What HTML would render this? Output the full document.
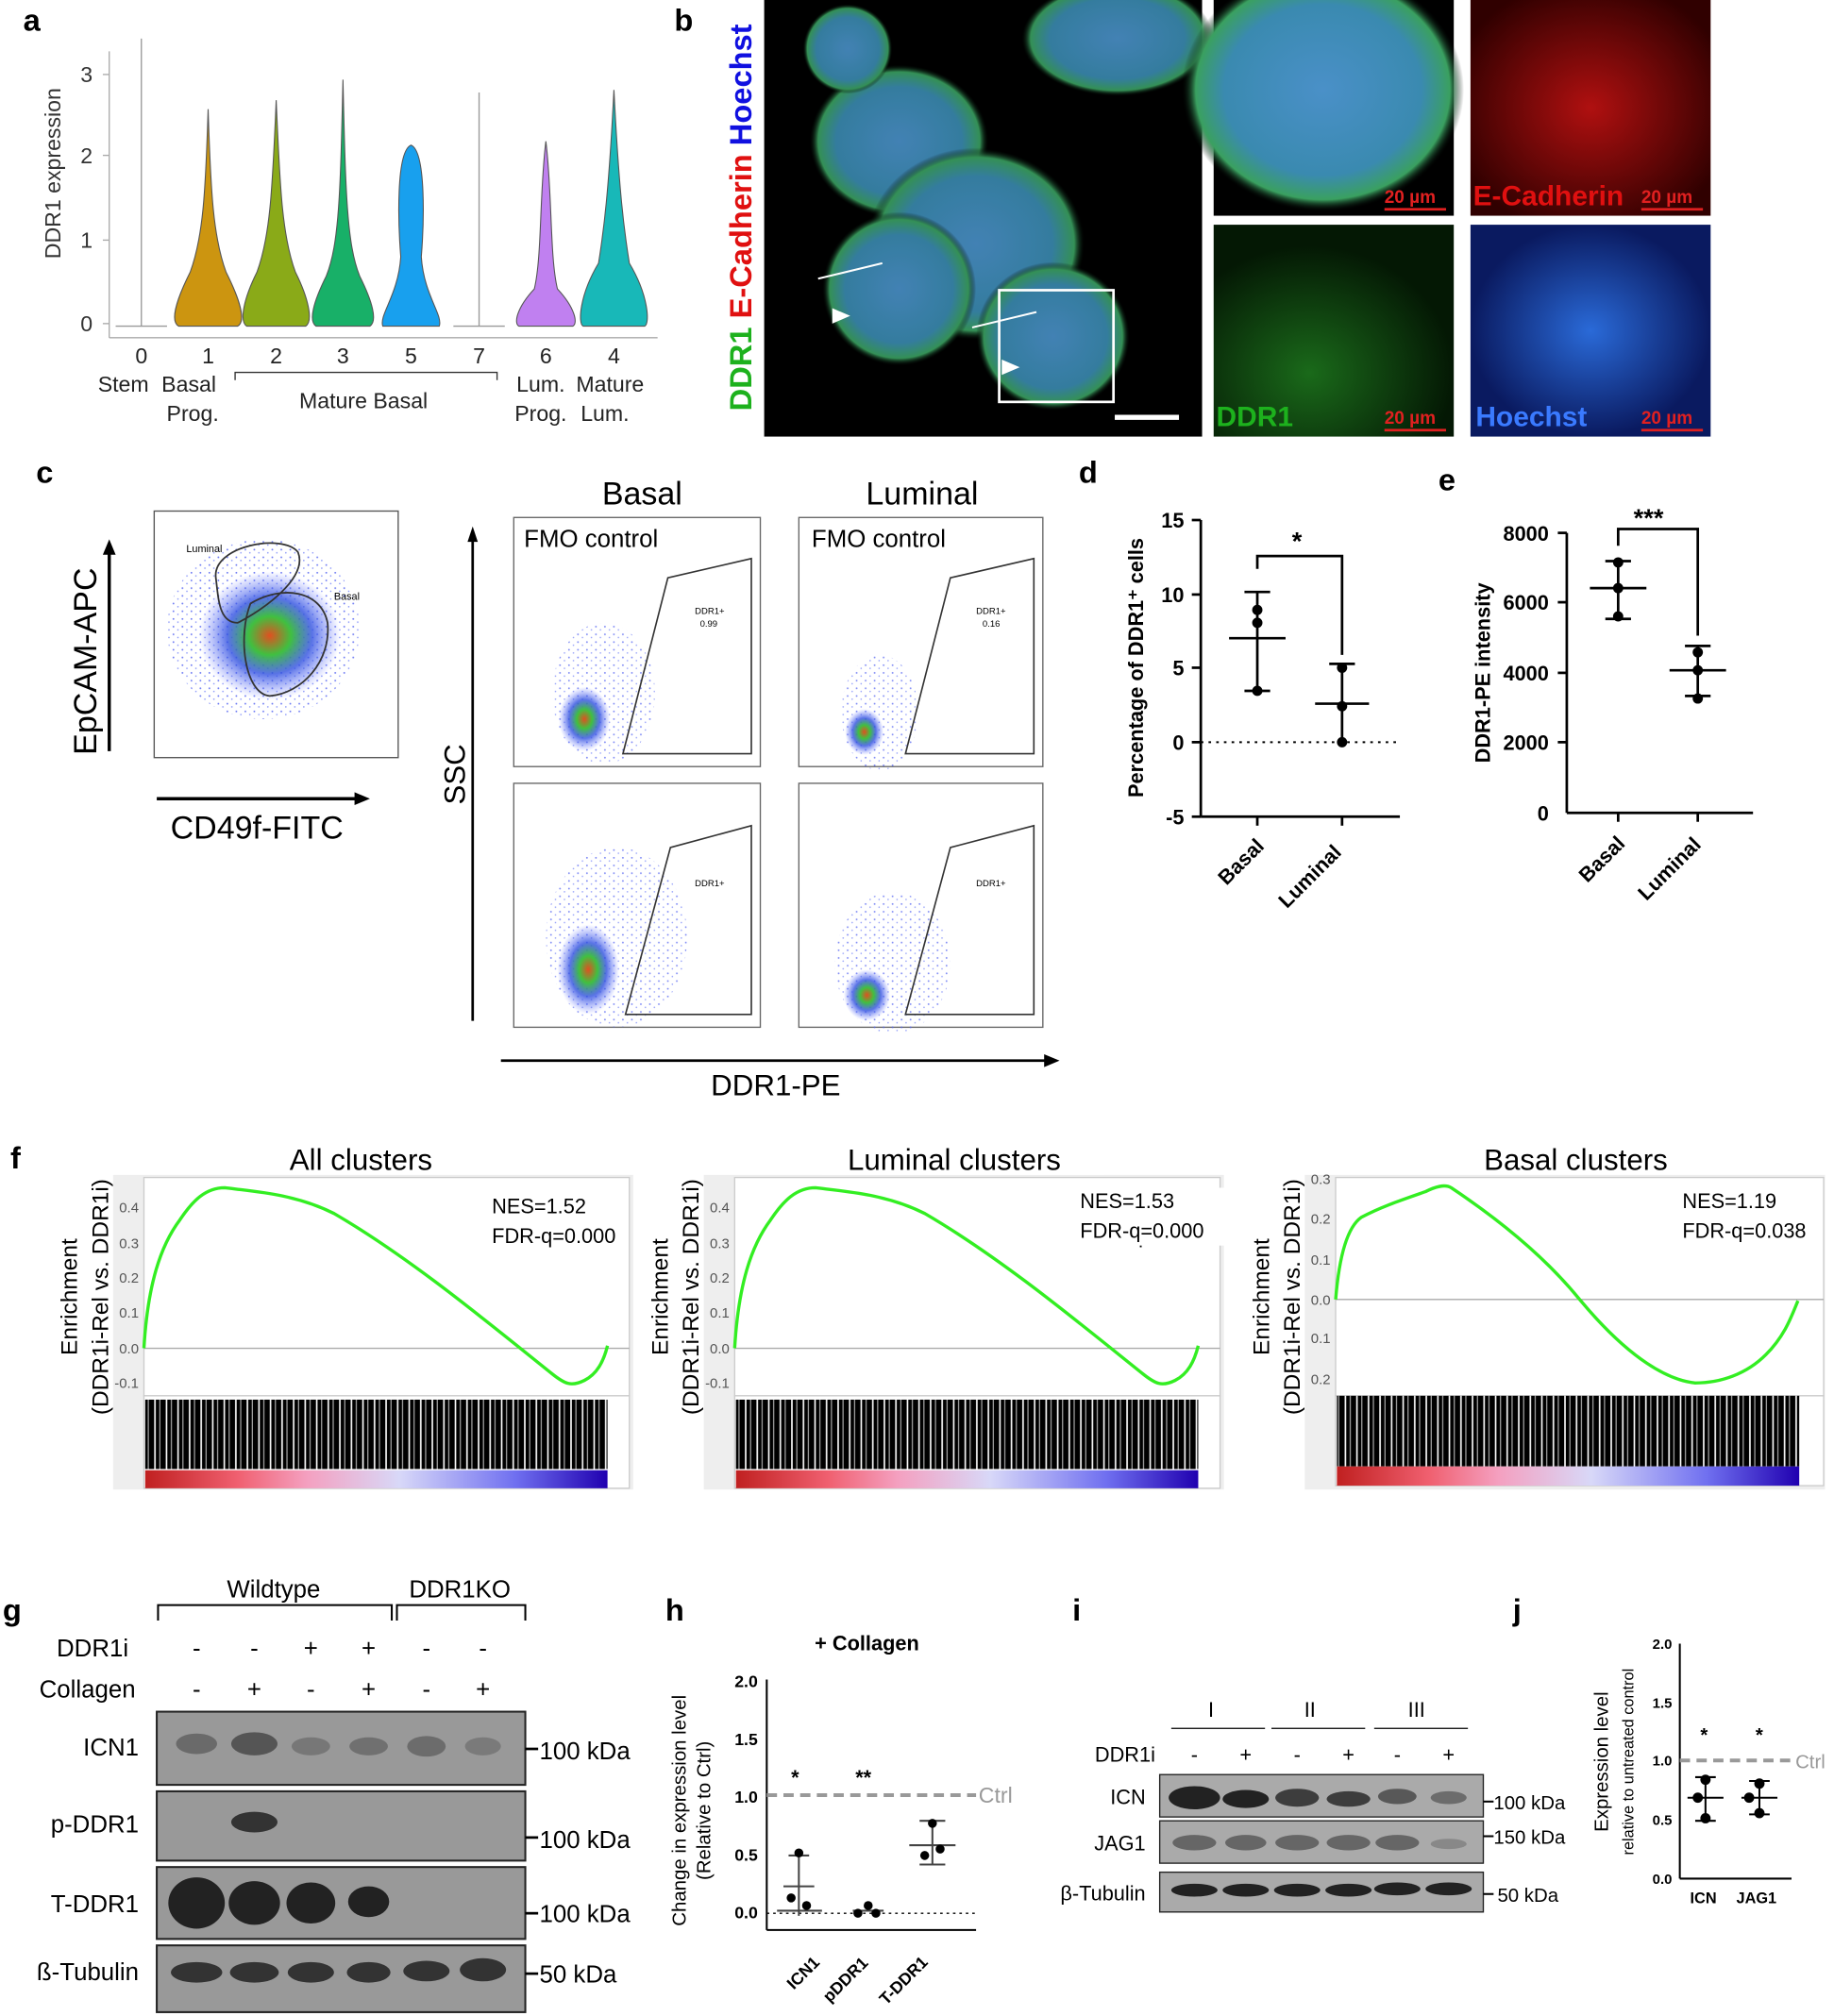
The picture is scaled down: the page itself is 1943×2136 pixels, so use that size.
<!DOCTYPE html>
<html><head><meta charset="utf-8"><style>
html,body{margin:0;padding:0;background:#fff}
svg{display:block}
text{font-family:"Liberation Sans",sans-serif}
</style></head><body>
<svg width="1943" height="2136" viewBox="0 0 1428 1570" xmlns="http://www.w3.org/2000/svg">
<defs>
<radialGradient id="org" cx="50%" cy="50%" r="50%"><stop offset="0" stop-color="#4a90c8"/><stop offset="0.7" stop-color="#3a8ab0"/><stop offset="0.9" stop-color="#3aa060"/><stop offset="1" stop-color="#000" stop-opacity="0"/></radialGradient>
<radialGradient id="blu" cx="50%" cy="50%" r="50%"><stop offset="0" stop-color="#2a6ad8"/><stop offset="1" stop-color="#0a1a60"/></radialGradient>
<radialGradient id="red" cx="50%" cy="50%" r="60%"><stop offset="0" stop-color="#b01010"/><stop offset="1" stop-color="#300000"/></radialGradient>
<radialGradient id="grn" cx="40%" cy="70%" r="60%"><stop offset="0" stop-color="#1a6a1a"/><stop offset="1" stop-color="#041804"/></radialGradient>
<radialGradient id="flow" cx="50%" cy="50%" r="50%"><stop offset="0" stop-color="#e05020"/><stop offset="0.3" stop-color="#40c040"/><stop offset="0.6" stop-color="#3050e0" stop-opacity="0.8"/><stop offset="1" stop-color="#6070ff" stop-opacity="0"/></radialGradient>
<linearGradient id="rank" x1="0" x2="1"><stop offset="0" stop-color="#c02020"/><stop offset="0.2" stop-color="#f06070"/><stop offset="0.35" stop-color="#f4a0c0"/><stop offset="0.55" stop-color="#d8d8f8"/><stop offset="0.8" stop-color="#7070f0"/><stop offset="1" stop-color="#2000b0"/></linearGradient>
<pattern id="bar" width="9" height="10" patternUnits="userSpaceOnUse"><rect width="9" height="10" fill="#000"/><rect x="3" width="1.2" height="10" fill="#fff"/><rect x="7" width="0.8" height="10" fill="#bbb"/></pattern>
<pattern id="dots" width="7" height="6" patternUnits="userSpaceOnUse"><circle cx="2" cy="2" r="0.7" fill="#4a5af0"/><circle cx="5.5" cy="4.5" r="0.6" fill="#6a7af8"/></pattern>
</defs>

<g font-weight="bold" font-size="24">
<text x="18" y="24">a</text><text x="525" y="24">b</text><text x="28" y="376">c</text><text x="840" y="376">d</text><text x="1120" y="382">e</text><text x="8" y="910">f</text><text x="2" y="1262">g</text><text x="518" y="1262">h</text><text x="835" y="1262">i</text><text x="1178" y="1262">j</text>
</g>

<!-- a -->
<g>
<line x1="85" y1="40" x2="85" y2="263" stroke="#aaa"/><line x1="85" y1="263" x2="512" y2="263" stroke="#aaa"/>
<g font-size="17" text-anchor="end" fill="#333"><text x="72" y="258">0</text><text x="72" y="193">1</text><text x="72" y="127">2</text><text x="72" y="64">3</text></g>
<g stroke="#aaa"><line x1="80" y1="252" x2="85" y2="252"/><line x1="80" y1="187" x2="85" y2="187"/><line x1="80" y1="121" x2="85" y2="121"/><line x1="80" y1="58" x2="85" y2="58"/></g>
<text transform="translate(47,135) rotate(-90)" font-size="17" text-anchor="middle" fill="#333">DDR1 expression</text>
<line x1="110" y1="30" x2="110" y2="254" stroke="#999"/><path d="M90,254 L130,254" stroke="#999"/>
<line x1="373" y1="72" x2="373" y2="254" stroke="#999"/><path d="M353,254 L393,254" stroke="#999"/>
<g stroke="#555" stroke-width="0.8">
<path d="M162,85 C164,150 166,185 176,212 C186,232 192,250 185,254 L139,254 C132,250 138,232 148,212 C158,185 160,150 162,85Z" fill="#cc9510"/>
<path d="M215,78 C218,150 220,185 230,212 C240,232 244,250 238,254 L192,254 C186,250 190,232 200,212 C210,185 212,150 215,78Z" fill="#8aaa18"/>
<path d="M267,62 C269,150 270,190 280,215 C290,235 294,250 288,254 L246,254 C240,250 244,235 254,215 C264,190 265,150 267,62Z" fill="#18b068"/>
<path d="M320,113 C332,118 330,175 328,200 C330,230 345,245 342,254 L298,254 C295,245 310,230 312,200 C310,175 308,118 320,113Z" fill="#18a0ee"/>
<path d="M425,110 C430,150 428,200 434,225 C448,240 450,252 446,254 L404,254 C400,252 402,240 416,225 C422,200 420,150 425,110Z" fill="#c080f0"/>
<path d="M478,70 C482,150 486,180 490,205 C505,230 506,252 502,254 L454,254 C450,252 451,230 466,205 C470,180 474,150 478,70Z" fill="#18b8b8"/>
</g>
<g font-size="17" text-anchor="middle" fill="#222">
<text x="110" y="283">0</text><text x="162" y="283">1</text><text x="215" y="283">2</text><text x="267" y="283">3</text><text x="320" y="283">5</text><text x="373" y="283">7</text><text x="425" y="283">6</text><text x="478" y="283">4</text>
<text x="96" y="305">Stem</text><text x="147" y="305">Basal</text><text x="150" y="328">Prog.</text><text x="283" y="318">Mature Basal</text>
<text x="421" y="305">Lum.</text><text x="475" y="305">Mature</text><text x="421" y="328">Prog.</text><text x="471" y="328">Lum.</text>
</g>
<path d="M183,296 L183,290 L387,290 L387,296" fill="none" stroke="#333"/>
</g>

<!-- b -->
<rect x="595" y="0" width="341" height="340" fill="#000"/>
<g opacity="0.9">
<ellipse cx="700" cy="110" rx="70" ry="60" fill="url(#org)"/>
<ellipse cx="760" cy="190" rx="85" ry="75" fill="url(#org)"/>
<ellipse cx="700" cy="225" rx="60" ry="60" fill="url(#org)"/>
<ellipse cx="820" cy="262" rx="60" ry="58" fill="url(#org)"/>
<ellipse cx="870" cy="30" rx="75" ry="45" fill="url(#org)"/>
<ellipse cx="660" cy="38" rx="35" ry="35" fill="url(#org)"/>
</g>
<rect x="778" y="226" width="89" height="87" fill="none" stroke="#fff" stroke-width="2"/>
<line x1="868" y1="325" x2="918" y2="325" stroke="#fff" stroke-width="4"/>
<g stroke="#fff" stroke-width="1.5"><line x1="637" y1="217" x2="687" y2="205"/><line x1="757" y1="255" x2="807" y2="243"/></g>
<polygon points="648,240 662,246 648,252" fill="#fff"/><polygon points="780,280 794,286 780,292" fill="#fff"/>
<g font-weight="bold" font-size="24"><text transform="translate(585,320) rotate(-90)"><tspan fill="#1db11d">DDR1 </tspan><tspan fill="#e01010">E-Cadherin </tspan><tspan fill="#1010e0">Hoechst</tspan></text></g>
<rect x="945" y="0" width="187" height="168" fill="#000"/><ellipse cx="1030" cy="70" rx="110" ry="95" fill="url(#org)"/>
<rect x="1145" y="0" width="187" height="168" fill="url(#red)"/>
<rect x="945" y="175" width="187" height="165" fill="url(#grn)"/>
<rect x="1145" y="175" width="187" height="165" fill="url(#blu)"/>
<g font-size="14" font-weight="bold" fill="#e02020"><text x="1078" y="158">20 µm</text><text x="1278" y="158">20 µm</text><text x="1078" y="330">20 µm</text><text x="1278" y="330">20 µm</text></g>
<g stroke="#e02020" stroke-width="2"><line x1="1078" y1="163" x2="1126" y2="163"/><line x1="1278" y1="163" x2="1326" y2="163"/><line x1="1078" y1="335" x2="1126" y2="335"/><line x1="1278" y1="335" x2="1326" y2="335"/></g>
<text x="1147" y="160" font-size="22" font-weight="bold" fill="#e01010">E-Cadherin</text>
<text x="947" y="332" font-size="22" font-weight="bold" fill="#1db11d">DDR1</text>
<text x="1149" y="332" font-size="22" font-weight="bold" fill="#3a7aff">Hoechst</text>

<!-- c -->
<rect x="120" y="398" width="190" height="192" fill="#fff" stroke="#555"/>
<ellipse cx="205" cy="490" rx="75" ry="70" fill="url(#dots)" opacity="0.8"/>
<ellipse cx="210" cy="495" rx="55" ry="50" fill="url(#flow)"/>
<path d="M168,450 C165,425 220,415 232,430 C240,450 205,475 185,485 C170,485 170,465 168,450Z" fill="none" stroke="#333" stroke-width="1.3"/>
<path d="M195,470 C220,455 250,460 255,485 C258,515 235,540 210,542 C190,540 185,495 195,470Z" fill="none" stroke="#333" stroke-width="1.3"/>
<text x="145" y="430" font-size="8">Luminal</text><text x="260" y="467" font-size="8">Basal</text>
<line x1="85" y1="585" x2="85" y2="430" stroke="#000" stroke-width="2.5"/><polygon points="80,432 90,432 85,420" fill="#000"/>
<line x1="122" y1="622" x2="278" y2="622" stroke="#000" stroke-width="2.5"/><polygon points="276,617 276,627 288,622" fill="#000"/>
<text transform="translate(75,515) rotate(-90)" font-size="25" text-anchor="middle">EpCAM-APC</text>
<text x="200" y="653" font-size="25" text-anchor="middle">CD49f-FITC</text>
<text x="500" y="393" font-size="25" text-anchor="middle">Basal</text><text x="718" y="393" font-size="25" text-anchor="middle">Luminal</text>
<g fill="#fff" stroke="#666">
<rect x="400" y="403" width="192" height="194"/><rect x="622" y="403" width="190" height="194"/>
<rect x="400" y="610" width="192" height="190"/><rect x="622" y="610" width="190" height="190"/>
</g>
<g fill="url(#dots)" opacity="0.7"><ellipse cx="470" cy="540" rx="40" ry="55"/><ellipse cx="685" cy="555" rx="30" ry="45"/><ellipse cx="480" cy="730" rx="55" ry="70"/><ellipse cx="695" cy="750" rx="45" ry="55"/></g>
<ellipse cx="455" cy="560" rx="20" ry="25" fill="url(#flow)"/><ellipse cx="673" cy="570" rx="15" ry="18" fill="url(#flow)"/>
<ellipse cx="458" cy="755" rx="24" ry="35" fill="url(#flow)"/><ellipse cx="675" cy="775" rx="18" ry="20" fill="url(#flow)"/>
<g fill="none" stroke="#333" stroke-width="1.2">
<path d="M485,587 L520,450 L585,435 L585,587Z"/><path d="M705,587 L740,450 L805,435 L805,587Z"/>
<path d="M487,790 L522,660 L585,643 L585,790Z"/><path d="M705,790 L740,660 L805,643 L805,790Z"/>
</g>
<g font-size="19"><text x="408" y="426">FMO control</text><text x="632" y="426">FMO control</text></g>
<g font-size="7"><text x="541" y="478">DDR1+</text><text x="545" y="488">0.99</text><text x="760" y="478">DDR1+</text><text x="765" y="488">0.16</text><text x="541" y="690">DDR1+</text><text x="760" y="690">DDR1+</text></g>
<line x1="368" y1="795" x2="368" y2="420" stroke="#000" stroke-width="2"/><polygon points="364,422 372,422 368,410" fill="#000"/>
<line x1="390" y1="826" x2="815" y2="826" stroke="#000" stroke-width="2"/><polygon points="813,821 813,831 825,826" fill="#000"/>
<text transform="translate(362,603) rotate(-90)" font-size="23" text-anchor="middle">SSC</text>
<text x="604" y="853" font-size="23" text-anchor="middle">DDR1-PE</text>

<!-- d -->
<g font-size="16" font-weight="bold">
<line x1="935" y1="405" x2="935" y2="636" stroke="#000" stroke-width="2"/><line x1="935" y1="636" x2="1090" y2="636" stroke="#000" stroke-width="2"/>
<g text-anchor="end"><text x="922" y="411">15</text><text x="922" y="469">10</text><text x="922" y="526">5</text><text x="922" y="584">0</text><text x="922" y="642">-5</text></g>
<g stroke="#000" stroke-width="2"><line x1="928" y1="405" x2="935" y2="405"/><line x1="928" y1="463" x2="935" y2="463"/><line x1="928" y1="520" x2="935" y2="520"/><line x1="928" y1="578" x2="935" y2="578"/><line x1="928" y1="636" x2="935" y2="636"/><line x1="979" y1="636" x2="979" y2="643"/><line x1="1045" y1="636" x2="1045" y2="643"/></g>
<line x1="935" y1="578" x2="1090" y2="578" stroke="#000" stroke-dasharray="2,4" stroke-width="1.5"/>
<text transform="translate(890,520) rotate(-90)" text-anchor="middle">Percentage of DDR1⁺ cells</text>
<text transform="translate(955,690) rotate(-45)">Basal</text><text transform="translate(1002,708) rotate(-45)">Luminal</text>
<g stroke="#000" stroke-width="2"><line x1="979" y1="461" x2="979" y2="538"/><line x1="969" y1="461" x2="989" y2="461"/><line x1="969" y1="538" x2="989" y2="538"/><line x1="957" y1="497" x2="1001" y2="497"/>
<line x1="1045" y1="517" x2="1045" y2="580"/><line x1="1035" y1="517" x2="1055" y2="517"/><line x1="1024" y1="548" x2="1066" y2="548"/>
<path d="M979,443 V433 H1045 V510" fill="none"/></g>
<circle cx="979" cy="475" r="4"/><circle cx="979" cy="485" r="4"/><circle cx="979" cy="538" r="4"/><circle cx="1045" cy="520" r="4"/><circle cx="1045" cy="550" r="4"/><circle cx="1045" cy="578" r="4"/>
<text x="1006" y="428" font-size="20">*</text>
</g>

<!-- e -->
<g font-size="16" font-weight="bold">
<line x1="1220" y1="415" x2="1220" y2="633" stroke="#000" stroke-width="2"/><line x1="1220" y1="633" x2="1365" y2="633" stroke="#000" stroke-width="2"/>
<g text-anchor="end"><text x="1206" y="421">8000</text><text x="1206" y="475">6000</text><text x="1206" y="530">4000</text><text x="1206" y="584">2000</text><text x="1206" y="639">0</text></g>
<g stroke="#000" stroke-width="2"><line x1="1213" y1="415" x2="1220" y2="415"/><line x1="1213" y1="469" x2="1220" y2="469"/><line x1="1213" y1="524" x2="1220" y2="524"/><line x1="1213" y1="578" x2="1220" y2="578"/><line x1="1260" y1="633" x2="1260" y2="640"/><line x1="1322" y1="633" x2="1322" y2="640"/></g>
<text transform="translate(1160,524) rotate(-90)" text-anchor="middle">DDR1-PE intensity</text>
<text transform="translate(1236,688) rotate(-45)">Basal</text><text transform="translate(1282,702) rotate(-45)">Luminal</text>
<g stroke="#000" stroke-width="2"><line x1="1260" y1="437" x2="1260" y2="482"/><line x1="1250" y1="437" x2="1270" y2="437"/><line x1="1250" y1="482" x2="1270" y2="482"/><line x1="1238" y1="458" x2="1282" y2="458"/>
<line x1="1322" y1="503" x2="1322" y2="542"/><line x1="1312" y1="503" x2="1332" y2="503"/><line x1="1312" y1="542" x2="1332" y2="542"/><line x1="1300" y1="522" x2="1344" y2="522"/>
<path d="M1260,425 V412 H1322 V495" fill="none"/></g>
<circle cx="1260" cy="438" r="4"/><circle cx="1260" cy="458" r="4"/><circle cx="1260" cy="480" r="4"/><circle cx="1322" cy="508" r="4"/><circle cx="1322" cy="522" r="4"/><circle cx="1322" cy="544" r="4"/>
<text x="1272" y="410" font-size="20">***</text>
</g>

<!-- f -->
<g id="gsea1">
<rect x="88" y="915" width="405" height="245" fill="#eee"/>
<rect x="112" y="917" width="378" height="170" fill="#fff" stroke="#ccc"/>
<rect x="112" y="1087" width="378" height="72" fill="#fff" stroke="#ccc"/>
<line x1="112" y1="1050" x2="490" y2="1050" stroke="#aaa"/>
<rect x="113" y="1090" width="360" height="54" fill="url(#bar)"/>
<rect x="113" y="1145" width="360" height="14" fill="url(#rank)"/>
<path d="M112,1050 C115,1000 125,970 140,950 C150,935 160,925 175,925 C200,928 230,930 260,945 C320,980 380,1030 430,1070 C440,1078 445,1080 455,1075 C465,1070 470,1060 473,1048" fill="none" stroke="#33ee22" stroke-width="2.5"/>
<g font-size="11" fill="#555" text-anchor="end"><text x="108" y="944">0.4</text><text x="108" y="972">0.3</text><text x="108" y="999">0.2</text><text x="108" y="1026">0.1</text><text x="108" y="1054">0.0</text><text x="108" y="1081">-0.1</text></g>
<text x="281" y="911" font-size="23" text-anchor="middle">All clusters</text>
<text x="383" y="945" font-size="16">NES=1.52</text><text x="383" y="968" font-size="16">FDR-q=0.000</text>
<text transform="translate(60,1010) rotate(-90)" font-size="18" text-anchor="middle">Enrichment</text>
<text transform="translate(84,1010) rotate(-90)" font-size="18" text-anchor="middle">(DDR1i-Rel vs. DDR1i)</text>
</g>
<use href="#gsea1" transform="translate(460,0)"/>
<rect x="640" y="885" width="220" height="30" fill="#fff"/>
<rect x="835" y="925" width="120" height="45" fill="#fff"/>
<text x="743" y="911" font-size="23" text-anchor="middle">Luminal clusters</text>
<text x="841" y="941" font-size="16">NES=1.53</text><text x="841" y="964" font-size="16">FDR-q=0.000</text>
<g>
<rect x="1016" y="915" width="405" height="245" fill="#eee"/>
<rect x="1040" y="917" width="380" height="170" fill="#fff" stroke="#ccc"/>
<rect x="1040" y="1087" width="380" height="70" fill="#fff" stroke="#ccc"/>
<line x1="1040" y1="1012" x2="1420" y2="1012" stroke="#aaa"/>
<rect x="1041" y="1087" width="360" height="55" fill="url(#bar)"/>
<rect x="1041" y="1142" width="360" height="15" fill="url(#rank)"/>
<path d="M1040,1012 C1043,975 1050,955 1060,948 C1075,940 1090,935 1110,928 C1118,924 1125,922 1130,925 C1160,945 1200,975 1230,1012 C1270,1060 1300,1075 1320,1077 C1340,1077 1360,1070 1375,1055 C1390,1040 1395,1025 1400,1013" fill="none" stroke="#33ee22" stroke-width="2.5"/>
<g font-size="11" fill="#555" text-anchor="end"><text x="1036" y="922">0.3</text><text x="1036" y="953">0.2</text><text x="1036" y="985">0.1</text><text x="1036" y="1016">0.0</text><text x="1036" y="1046">0.1</text><text x="1036" y="1078">0.2</text></g>
<text x="1227" y="911" font-size="23" text-anchor="middle">Basal clusters</text>
<text x="1310" y="941" font-size="16">NES=1.19</text><text x="1310" y="964" font-size="16">FDR-q=0.038</text>
<text transform="translate(988,1010) rotate(-90)" font-size="18" text-anchor="middle">Enrichment</text>
<text transform="translate(1012,1010) rotate(-90)" font-size="18" text-anchor="middle">(DDR1i-Rel vs. DDR1i)</text>
</g>

<!-- g -->
<g>
<text x="213" y="1244" font-size="19" text-anchor="middle">Wildtype</text><text x="358" y="1244" font-size="19" text-anchor="middle">DDR1KO</text>
<path d="M123,1262 V1250 H305 V1262 M309,1262 V1250 H409 V1262" fill="none" stroke="#000" stroke-width="1.5"/>
<g font-size="19" text-anchor="middle"><text x="72" y="1290">DDR1i</text><text x="68" y="1322">Collagen</text>
<text x="153" y="1290">-</text><text x="198" y="1290">-</text><text x="242" y="1290">+</text><text x="287" y="1290">+</text><text x="332" y="1290">-</text><text x="376" y="1290">-</text>
<text x="153" y="1322">-</text><text x="198" y="1322">+</text><text x="242" y="1322">-</text><text x="287" y="1322">+</text><text x="332" y="1322">-</text><text x="376" y="1322">+</text></g>
<g fill="#999" stroke="#222" stroke-width="1.5"><rect x="122" y="1333" width="287" height="57"/><rect x="122" y="1395" width="287" height="54"/><rect x="122" y="1454" width="287" height="56"/><rect x="122" y="1515" width="287" height="52"/></g>
<g fill="#555"><ellipse cx="153" cy="1358" rx="16" ry="8" opacity="0.7"/><ellipse cx="198" cy="1358" rx="18" ry="9"/><ellipse cx="242" cy="1360" rx="15" ry="7" opacity="0.5"/><ellipse cx="287" cy="1360" rx="15" ry="7" opacity="0.6"/><ellipse cx="332" cy="1360" rx="15" ry="8" opacity="0.65"/><ellipse cx="376" cy="1360" rx="14" ry="7" opacity="0.45"/></g>
<ellipse cx="198" cy="1419" rx="18" ry="8" fill="#333"/>
<g fill="#222"><ellipse cx="153" cy="1482" rx="22" ry="20"/><ellipse cx="198" cy="1482" rx="20" ry="17"/><ellipse cx="242" cy="1482" rx="19" ry="16"/><ellipse cx="287" cy="1481" rx="16" ry="12"/></g>
<g fill="#333"><ellipse cx="153" cy="1536" rx="20" ry="8"/><ellipse cx="198" cy="1536" rx="19" ry="8"/><ellipse cx="242" cy="1536" rx="18" ry="8"/><ellipse cx="287" cy="1536" rx="17" ry="8"/><ellipse cx="332" cy="1535" rx="18" ry="8"/><ellipse cx="376" cy="1534" rx="18" ry="9"/></g>
<g font-size="19" text-anchor="end"><text x="108" y="1367">ICN1</text><text x="108" y="1427">p-DDR1</text><text x="108" y="1489">T-DDR1</text><text x="108" y="1542">ß-Tubulin</text></g>
<g font-size="19"><text x="420" y="1370">100 kDa</text><text x="420" y="1439">100 kDa</text><text x="420" y="1497">100 kDa</text><text x="420" y="1544">50 kDa</text></g>
<g stroke="#000" stroke-width="2"><line x1="409" y1="1362" x2="419" y2="1362"/><line x1="409" y1="1431" x2="419" y2="1431"/><line x1="409" y1="1490" x2="419" y2="1490"/><line x1="409" y1="1537" x2="419" y2="1537"/></g>
</g>

<!-- h -->
<g font-weight="bold" font-size="13">
<text x="675" y="1285" font-size="16" text-anchor="middle">+ Collagen</text>
<line x1="597" y1="1308" x2="597" y2="1503" stroke="#000" stroke-width="1.5"/><line x1="597" y1="1503" x2="760" y2="1503" stroke="#000" stroke-width="1.5"/>
<g text-anchor="end"><text x="590" y="1314">2.0</text><text x="590" y="1359">1.5</text><text x="590" y="1404">1.0</text><text x="590" y="1449">0.5</text><text x="590" y="1494">0.0</text></g>
<line x1="597" y1="1398" x2="760" y2="1398" stroke="#999" stroke-width="3" stroke-dasharray="8,5"/>
<text x="762" y="1404" font-size="17" font-weight="normal" fill="#999">Ctrl</text>
<line x1="597" y1="1490" x2="760" y2="1490" stroke="#000" stroke-dasharray="2,3"/>
<text transform="translate(534,1410) rotate(-90)" font-size="15" font-weight="normal" text-anchor="middle">Change in expression level</text>
<text transform="translate(553,1410) rotate(-90)" font-size="15" font-weight="normal" text-anchor="middle">(Relative to Ctrl)</text>
<g stroke="#444" stroke-width="1.5"><line x1="622" y1="1445" x2="622" y2="1492"/><line x1="610" y1="1469" x2="634" y2="1469"/><line x1="614" y1="1445" x2="630" y2="1445"/>
<line x1="605" y1="1488" x2="640" y2="1488" /><line x1="664" y1="1488" x2="688" y2="1488"/><line x1="726" y1="1418" x2="726" y2="1452"/><line x1="716" y1="1418" x2="736" y2="1418"/><line x1="716" y1="1452" x2="736" y2="1452"/><line x1="708" y1="1437" x2="744" y2="1437"/></g>
<circle cx="622" cy="1443" r="3.5"/><circle cx="616" cy="1478" r="3.5"/><circle cx="628" cy="1484" r="3.5"/><circle cx="668" cy="1490" r="3.5"/><circle cx="676" cy="1484" r="3.5"/><circle cx="682" cy="1490" r="3.5"/><circle cx="726" cy="1420" r="3.5"/><circle cx="720" cy="1445" r="3.5"/><circle cx="732" cy="1440" r="3.5"/>
<text x="616" y="1390" font-size="16">*</text><text x="666" y="1390" font-size="16">**</text>
<text transform="translate(618,1550) rotate(-45)">ICN1</text><text transform="translate(646,1560) rotate(-45)">pDDR1</text><text transform="translate(690,1562) rotate(-45)">T-DDR1</text>
</g>

<!-- i -->
<g>
<g font-size="16" text-anchor="middle"><text x="943" y="1337">I</text><text x="1020" y="1337">II</text><text x="1103" y="1337">III</text></g>
<g stroke="#000"><line x1="912" y1="1346" x2="985" y2="1346"/><line x1="990" y1="1346" x2="1063" y2="1346"/><line x1="1070" y1="1346" x2="1143" y2="1346"/></g>
<g font-size="16" text-anchor="middle"><text x="876" y="1372">DDR1i</text><text x="930" y="1372">-</text><text x="970" y="1372">+</text><text x="1010" y="1372">-</text><text x="1050" y="1372">+</text><text x="1088" y="1372">-</text><text x="1128" y="1372">+</text></g>
<g fill="#aaa" stroke="#222"><rect x="903" y="1382" width="252" height="33"/><rect x="903" y="1418" width="252" height="33"/><rect x="903" y="1458" width="252" height="31"/></g>
<g fill="#222"><ellipse cx="930" cy="1400" rx="20" ry="9"/><ellipse cx="970" cy="1401" rx="18" ry="7"/><ellipse cx="1010" cy="1400" rx="17" ry="7" opacity="0.8"/><ellipse cx="1050" cy="1401" rx="17" ry="6" opacity="0.8"/><ellipse cx="1088" cy="1399" rx="15" ry="6" opacity="0.6"/><ellipse cx="1128" cy="1400" rx="14" ry="5" opacity="0.45"/></g>
<g fill="#666"><ellipse cx="930" cy="1435" rx="17" ry="6"/><ellipse cx="970" cy="1435" rx="16" ry="6"/><ellipse cx="1010" cy="1435" rx="17" ry="6"/><ellipse cx="1050" cy="1435" rx="17" ry="6"/><ellipse cx="1088" cy="1435" rx="17" ry="6"/><ellipse cx="1128" cy="1436" rx="14" ry="4" opacity="0.5"/></g>
<g fill="#222"><ellipse cx="930" cy="1472" rx="18" ry="5"/><ellipse cx="970" cy="1472" rx="18" ry="5"/><ellipse cx="1010" cy="1472" rx="18" ry="5"/><ellipse cx="1050" cy="1472" rx="18" ry="5"/><ellipse cx="1088" cy="1471" rx="18" ry="5"/><ellipse cx="1128" cy="1471" rx="18" ry="5"/></g>
<g font-size="16" text-anchor="end"><text x="892" y="1405">ICN</text><text x="892" y="1441">JAG1</text><text x="892" y="1480">β-Tubulin</text></g>
<g stroke="#000" stroke-width="1.5"><line x1="1155" y1="1403" x2="1163" y2="1403"/><line x1="1155" y1="1430" x2="1163" y2="1430"/><line x1="1155" y1="1475" x2="1163" y2="1475"/></g>
<g font-size="15"><text x="1163" y="1409">100 kDa</text><text x="1163" y="1436">150 kDa</text><text x="1166" y="1481">50 kDa</text></g>
</g>

<!-- j -->
<g font-weight="bold" font-size="11">
<line x1="1308" y1="1280" x2="1308" y2="1463" stroke="#000" stroke-width="1.5"/><line x1="1308" y1="1463" x2="1395" y2="1463" stroke="#000" stroke-width="1.5"/>
<g text-anchor="end"><text x="1302" y="1284">2.0</text><text x="1302" y="1330">1.5</text><text x="1302" y="1375">1.0</text><text x="1302" y="1421">0.5</text><text x="1302" y="1467">0.0</text></g>
<line x1="1308" y1="1371" x2="1398" y2="1371" stroke="#999" stroke-width="3" stroke-dasharray="8,5"/>
<text x="1398" y="1377" font-size="15" font-weight="normal" fill="#999">Ctrl</text>
<text transform="translate(1252,1372) rotate(-90)" font-size="15" font-weight="normal" text-anchor="middle">Expression level</text>
<text transform="translate(1272,1372) rotate(-90)" font-size="12" font-weight="normal" text-anchor="middle">relative to untreated control</text>
<g stroke="#000" stroke-width="1.5"><line x1="1328" y1="1384" x2="1328" y2="1418"/><line x1="1320" y1="1384" x2="1336" y2="1384"/><line x1="1320" y1="1418" x2="1336" y2="1418"/><line x1="1314" y1="1400" x2="1342" y2="1400"/>
<line x1="1370" y1="1387" x2="1370" y2="1413"/><line x1="1362" y1="1387" x2="1378" y2="1387"/><line x1="1362" y1="1413" x2="1378" y2="1413"/><line x1="1356" y1="1400" x2="1384" y2="1400"/></g>
<circle cx="1328" cy="1386" r="4"/><circle cx="1322" cy="1400" r="4"/><circle cx="1328" cy="1416" r="4"/><circle cx="1370" cy="1389" r="4"/><circle cx="1362" cy="1400" r="4"/><circle cx="1370" cy="1412" r="4"/>
<text x="1324" y="1356" font-size="15">*</text><text x="1367" y="1356" font-size="15">*</text>
<text x="1316" y="1482" font-size="12">ICN</text><text x="1352" y="1482" font-size="12">JAG1</text>
</g>
</svg>
</body></html>
